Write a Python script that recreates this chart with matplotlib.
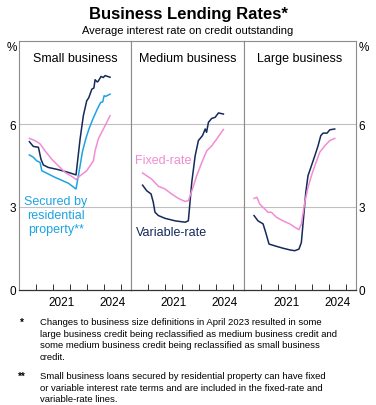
import matplotlib.pyplot as plt
import numpy as np

plt.rcParams['font.family'] = ['Liberation Sans', 'DejaVu Sans']

NAVY = '#15295a'
CYAN = '#1ea3e2'
PINK = '#f28cd4'
GRID = '#c0c0c0'
FRAME = '#8c8c8c'

panels = ['Small business', 'Medium business', 'Large business']

# Small business
small_var_x = [2019.61, 2019.84, 2020.14, 2020.29, 2020.43, 2020.72, 2021.31, 2021.90, 2022.35,
               2022.59, 2022.78, 2022.98, 2023.10, 2023.28, 2023.40, 2023.47, 2023.60, 2023.66,
               2023.82, 2023.95, 2024.06, 2024.35]
small_var_y = [5.36, 5.19, 5.16, 4.73, 4.52, 4.43, 4.35, 4.25, 4.16,
               5.46, 6.30, 6.84, 6.95, 7.26, 7.30, 7.60, 7.52, 7.55,
               7.72, 7.68, 7.75, 7.69]
small_res_x = [2019.61, 2019.84, 2020.04, 2020.24, 2020.34, 2021.12, 2021.90, 2022.35,
               2022.59, 2022.72, 2022.92, 2023.11, 2023.34, 2023.50, 2023.60, 2023.80, 2023.92,
               2024.00, 2024.10, 2024.35]
small_res_y = [4.88, 4.80, 4.67, 4.61, 4.31, 4.07, 3.86, 3.65,
               4.49, 4.98, 5.46, 5.82, 6.18, 6.40, 6.54, 6.78, 6.80,
               7.02, 7.00, 7.08]
small_fix_x = [2019.61, 2019.94, 2020.24, 2020.53, 2020.92, 2021.31, 2021.71, 2022.19, 2022.35,
               2022.59, 2022.98, 2023.37, 2023.47, 2023.66, 2023.86, 2024.06, 2024.35]
small_fix_y = [5.48, 5.40, 5.28, 5.03, 4.73, 4.49, 4.25, 4.07, 3.99,
               4.13, 4.31, 4.67, 5.03, 5.46, 5.70, 5.94, 6.30]

# Medium business
med_var_x = [2019.66, 2019.90, 2020.16, 2020.29, 2020.39, 2020.59, 2020.98, 2021.57, 2022.16,
             2022.35, 2022.55, 2022.75, 2022.94, 2023.18, 2023.34, 2023.42, 2023.53, 2023.72,
             2023.92, 2024.12, 2024.41]
med_var_y = [3.79, 3.59, 3.47, 3.17, 2.81, 2.69, 2.59, 2.50, 2.45,
             2.50, 3.89, 4.85, 5.40, 5.58, 5.82, 5.70, 6.06, 6.20,
             6.24, 6.40, 6.36]
med_fix_x = [2019.66, 2019.90, 2020.19, 2020.59, 2020.98, 2021.37, 2021.76, 2022.16, 2022.35,
             2022.59, 2022.84, 2023.14, 2023.43, 2023.72, 2024.02, 2024.41]
med_fix_y = [4.23, 4.13, 4.01, 3.75, 3.65, 3.47, 3.31, 3.20, 3.23,
             3.65, 4.13, 4.61, 5.03, 5.21, 5.46, 5.80]

# Large business
large_var_x = [2019.61, 2019.84, 2020.14, 2020.29, 2020.49, 2020.92, 2021.31, 2021.71, 2022.00,
               2022.25, 2022.39, 2022.53, 2022.65, 2022.78, 2022.98, 2023.18, 2023.37, 2023.53,
               2023.67, 2023.90, 2024.06, 2024.35]
large_var_y = [2.69, 2.50, 2.39, 2.09, 1.66, 1.58, 1.51, 1.45, 1.42,
               1.48, 1.72, 2.69, 3.53, 4.13, 4.49, 4.85, 5.21, 5.58,
               5.67, 5.67, 5.79, 5.82]
large_fix_x = [2019.61, 2019.78, 2019.94, 2020.24, 2020.43, 2020.63, 2020.92, 2021.31, 2021.71,
               2022.00, 2022.25, 2022.39, 2022.59, 2022.78, 2022.98, 2023.18, 2023.47, 2023.76,
               2024.06, 2024.35]
large_fix_y = [3.31, 3.35, 3.11, 2.93, 2.81, 2.81, 2.63, 2.50, 2.39,
               2.27, 2.18, 2.39, 3.17, 3.71, 4.13, 4.49, 4.98, 5.21,
               5.40, 5.48]

series = [
    [(small_var_x, small_var_y, NAVY), (small_res_x, small_res_y, CYAN), (small_fix_x, small_fix_y, PINK)],
    [(med_var_x, med_var_y, NAVY), (med_fix_x, med_fix_y, PINK)],
    [(large_var_x, large_var_y, NAVY), (large_fix_x, large_fix_y, PINK)],
]

year_ticks = [2020, 2021, 2022, 2023, 2024, 2025]
year_labels = ['2021', '2024']

fig = plt.figure(figsize=(3.76, 4.06), dpi=100)

left, right = 19 / 376, 356 / 376
bottom, top = 1 - 291 / 406, 1 - 42 / 406
w = (right - left) / 3

for i, name in enumerate(panels):
    ax = fig.add_axes([left + i * w, bottom, w, top - bottom])
    for xs, ys, c in series[i]:
        ax.plot(xs, ys, color=c, lw=1.1, zorder=3)
    ax.set_xlim(2019.0, 2025.6)
    ax.set_ylim(0, 9)
    for g in [3, 6]:
        ax.axhline(g, color=GRID, lw=0.8, zorder=1)
    for s in ['top', 'left', 'right']:
        ax.spines[s].set_color(FRAME)
        ax.spines[s].set_linewidth(0.8)
    ax.spines['bottom'].set_color('#333333')
    ax.spines['bottom'].set_linewidth(0.9)
    ax.set_xticks(year_ticks, minor=True)
    ax.set_xticks([int(l) + 0.5 for l in year_labels])
    ax.set_xticklabels(year_labels, fontsize=8.5)
    ax.tick_params(axis='x', which='major', length=0, pad=4)
    ax.tick_params(axis='x', which='minor', direction='in', length=4, width=0.7, color='#333333')
    ax.set_yticks([0, 3, 6])
    ax.set_yticklabels(['0', '3', '6'], fontsize=8.5)
    ax.tick_params(axis='y', length=0, pad=2)
    if i == 0:
        ax.yaxis.set_ticks_position('left')
        ax.text(-0.02, 8.8, '%', transform=ax.get_yaxis_transform(), ha='right', va='center', fontsize=8.5)
    elif i == 2:
        ax.yaxis.set_ticks_position('right')
        ax.text(1.02, 8.8, '%', transform=ax.get_yaxis_transform(), ha='left', va='center', fontsize=8.5)
    else:
        ax.set_yticklabels([])
    ax.text(0.5, 0.955, name, transform=ax.transAxes, ha='center', va='top', fontsize=9)

    if i == 0:
        ax.text(2021.18, 2.71, 'Secured by\nresidential\nproperty**', color=CYAN, fontsize=9,
                ha='center', va='center', multialignment='center', linespacing=1.25)
    if i == 1:
        ax.text(2019.24, 4.7, 'Fixed-rate', color=PINK, fontsize=9, ha='left', va='center')
        ax.text(2019.29, 2.1, 'Variable-rate', color=NAVY, fontsize=9, ha='left', va='center')

fig.text(0.5, 1 - 14 / 406, 'Business Lending Rates*', ha='center', va='center',
         fontsize=12, fontweight='bold')
fig.text(0.5, 1 - 31 / 406, 'Average interest rate on credit outstanding', ha='center', va='center',
         fontsize=8)

fn1 = ('Changes to business size definitions in April 2023 resulted in some\n'
       'large business credit being reclassified as medium business credit and\n'
       'some medium business credit being reclassified as small business\n'
       'credit.')
fn2 = ('Small business loans secured by residential property can have fixed\n'
       'or variable interest rate terms and are included in the fixed-rate and\n'
       'variable-rate lines.')
fig.text(20 / 376, 1 - 318 / 406, '*', ha='left', va='top', fontsize=7, fontweight='bold')
fig.text(40 / 376, 1 - 318 / 406, fn1, ha='left', va='top', fontsize=6.8, linespacing=1.38)
fig.text(18 / 376, 1 - 372 / 406, '**', ha='left', va='top', fontsize=7, fontweight='bold')
fig.text(40 / 376, 1 - 372 / 406, fn2, ha='left', va='top', fontsize=6.8, linespacing=1.38)

fig.savefig('out.png', dpi=100)
